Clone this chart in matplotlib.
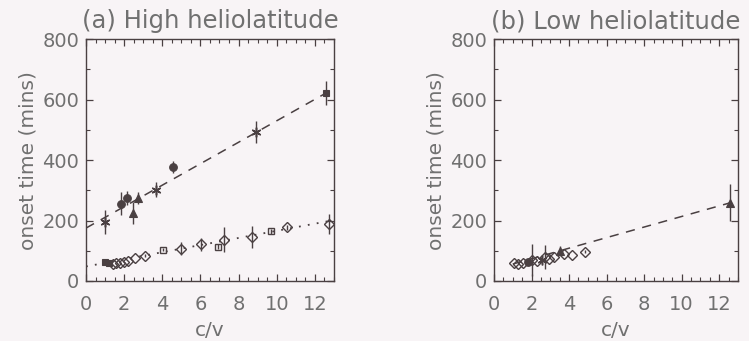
import numpy as np
import matplotlib.pyplot as plt
from matplotlib.ticker import MultipleLocator


plt.rcParams["font.family"] = "DejaVu Sans"
plt.rcParams["font.size"] = 13

paper = "#f8f4f6"
ink = "#4a4042"
text_gray = "#707070"

# ----------------------------
# (a) high heliolatitude
# ----------------------------
# upper group: mixed species, dashed fit
hi_x = [1.0, 1.85, 2.15, 2.45, 2.75, 3.65, 4.55, 8.9, 12.6]
hi_y = [195, 255, 275, 225, 275, 302, 376, 493, 621]
hi_err = [40, 38, 22, 38, 19, 25, 20, 36, 40]
hi_mark = ["star", "dot", "dot", "tri", "tri", "star", "dot", "star", "sq"]
hi_fit = (35.5, 175.0)  # slope, intercept

# lower group: diamonds, dotted fit
lo_x = [1.0, 1.2, 1.4, 1.6, 1.8, 2.0, 2.2, 2.55, 3.1, 4.05, 5.0, 6.05,
        6.9, 7.25, 8.7, 9.7, 10.55, 12.75]
lo_y = [62, 58, 57, 58, 60, 62, 66, 75, 84, 104, 107, 121,
        113, 137, 146, 164, 177, 190]
lo_err = [0, 0, 0, 0, 0, 0, 0, 0, 6, 6, 22, 22,
          8, 42, 36, 8, 8, 33]
lo_mark = ["sq", "sq", "dia", "dia", "dia", "dia", "dia", "dia", "dia", "osq",
           "dia", "dia", "osq", "dia", "dia", "osq", "dia", "dia"]
lo_fit = (11.8, 48.0)

# ----------------------------
# (b) low heliolatitude
# ----------------------------
b_x = [1.05, 1.3, 1.55, 1.8, 2.05, 2.3, 2.55, 2.7, 2.95, 3.2, 3.5, 3.75,
       4.15, 4.85, 12.6]
b_y = [58, 56, 60, 62, 70, 66, 70, 78, 74, 78, 100, 90, 86, 97, 259]
b_err = [0, 0, 0, 0, 52, 0, 0, 40, 0, 0, 15, 0, 0, 6, 62]
b_mark = ["dia", "dia", "dia", "dot", "dia", "dia", "star", "dia", "dia",
          "dia", "tri", "dia", "dia", "dia", "tri"]
b_fit = (17.5, 38.5)

x_ticks = [0, 2, 4, 6, 8, 10, 12]
y_ticks = [0, 200, 400, 600, 800]

marker_style = {
    "star": dict(marker=(6, 2, 0), ms=7, mfc=ink, mew=1.1),
    "dot": dict(marker="o", ms=5.5, mfc=ink, mew=0.8),
    "tri": dict(marker="^", ms=6, mfc=ink, mew=0.8),
    "sq": dict(marker="s", ms=4.5, mfc=ink, mew=0.8),
    "osq": dict(marker="s", ms=4.5, mfc="none", mew=1.0),
    "dia": dict(marker="D", ms=5, mfc="none", mew=1.0),
}


def draw_points(ax, xs, ys, errs, marks):
    for x, y, e, m in zip(xs, ys, errs, marks):
        if e > 0:
            ax.errorbar(x, y, yerr=e, fmt="none", ecolor=ink, elinewidth=1.0,
                        capsize=0, zorder=3)
        ax.plot(x, y, linestyle="none", mec=ink, zorder=4, **marker_style[m])


def style_axes(ax, title):
    ax.set_facecolor(paper)
    ax.set_xlim(0, 13)
    ax.set_ylim(0, 800)
    ax.set_xticks(x_ticks)
    ax.set_yticks(y_ticks)
    ax.xaxis.set_minor_locator(MultipleLocator(0.5))
    ax.yaxis.set_minor_locator(MultipleLocator(100))
    ax.tick_params(which="both", direction="in", top=True, right=True,
                   color=ink, labelcolor=text_gray, labelsize=14)
    ax.tick_params(which="major", length=5, width=0.9)
    ax.tick_params(which="minor", length=3, width=0.8)
    ax.tick_params(axis="x", pad=10)
    ax.tick_params(axis="y", pad=5)
    for s in ax.spines.values():
        s.set_color(ink)
        s.set_linewidth(1.0)
    ax.set_xlabel("c/v", color=text_gray, fontsize=14.5, labelpad=5)
    ax.set_ylabel("onset time (mins)", color=text_gray, fontsize=14.5,
                  labelpad=3)
    ax.set_title(title, color=text_gray, fontsize=17.5, pad=8)


fig = plt.figure(figsize=(7.49, 3.41), dpi=100, facecolor=paper)
ax1 = fig.add_axes([0.1148, 0.176, 0.331, 0.709])
ax2 = fig.add_axes([0.6595, 0.176, 0.3258, 0.709])

xx = np.array([0.0, 13.0])
ax1.plot(xx, hi_fit[0] * xx + hi_fit[1], color=ink, lw=1.1,
         linestyle=(0, (6, 5)), zorder=2)
ax1.plot(xx, lo_fit[0] * xx + lo_fit[1], color=ink, lw=1.3,
         linestyle=(0, (1, 4)), zorder=2)
draw_points(ax1, hi_x, hi_y, hi_err, hi_mark)
draw_points(ax1, lo_x, lo_y, lo_err, lo_mark)
style_axes(ax1, "(a) High heliolatitude")

xb = np.array([1.0, 13.0])
ax2.plot(xb, b_fit[0] * xb + b_fit[1], color=ink, lw=1.1,
         linestyle=(0, (6, 5)), zorder=2)
draw_points(ax2, b_x, b_y, b_err, b_mark)
style_axes(ax2, "(b) Low heliolatitude")

fig.savefig("out.png", dpi=100, facecolor=paper)
